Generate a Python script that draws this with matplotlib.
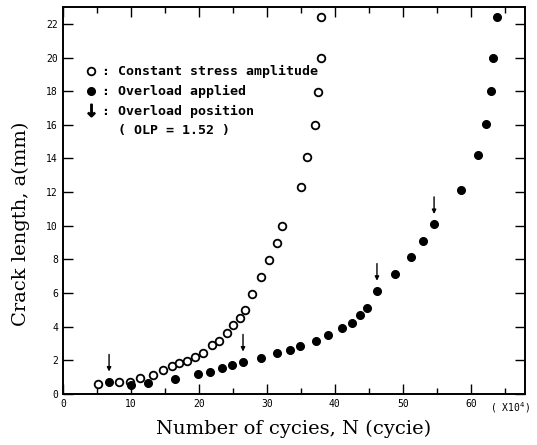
import matplotlib
matplotlib.use("Agg")
import matplotlib.pyplot as plt
from matplotlib.lines import Line2D
from matplotlib.ticker import MultipleLocator

# Constant stress amplitude (open circles), N in x10^4 cycles, a in mm
const_N = [5.1, 8.2, 9.9, 11.3, 13.2, 14.7, 16.0, 17.1, 18.2, 19.4, 20.6, 21.9,
           22.9, 24.1, 25.0, 26.0, 26.8, 27.8, 29.1, 30.3, 31.5, 32.2, 35.1,
           35.9, 37.1, 37.5, 37.9, 37.9]
const_a = [0.59, 0.71, 0.71, 0.95, 1.13, 1.42, 1.66, 1.84, 1.96, 2.19, 2.43, 2.91,
           3.14, 3.62, 4.09, 4.51, 4.98, 5.93, 6.94, 7.95, 8.96, 9.96, 12.28,
           14.06, 16.01, 17.97, 19.99, 22.42]

# Overload applied (filled circles)
over_N = [6.8, 10.0, 12.5, 16.5, 19.9, 21.6, 23.4, 24.9, 26.5, 29.1, 31.5, 33.4,
          34.9, 37.2, 39.0, 41.0, 42.5, 43.7, 44.7, 46.2, 48.8, 51.2, 52.9, 54.6,
          58.5, 61.0, 62.2, 62.9, 63.2, 63.8]
over_a = [0.71, 0.53, 0.65, 0.89, 1.19, 1.30, 1.54, 1.72, 1.90, 2.14, 2.43, 2.61,
          2.85, 3.14, 3.50, 3.91, 4.21, 4.69, 5.10, 6.11, 7.12, 8.13, 9.07, 10.08,
          12.10, 14.18, 16.07, 18.03, 19.99, 22.42]

# Overload positions (arrows)
olp_N = [6.8, 26.5, 46.2, 54.6]
olp_a = [0.71, 1.90, 6.11, 10.08]

fig = plt.figure(figsize=(5.37, 4.45), dpi=100)
ax = fig.add_axes([0.117, 0.115, 0.861, 0.869])

ax.plot(const_N, const_a, 'o', mfc='white', mec='black', mew=1.3, ms=5.5, ls='none')
ax.plot(over_N, over_a, 'o', mfc='black', mec='black', ms=5.5, ls='none')

# arrows above the overload points
for n, a in zip(olp_N, olp_a):
    ax.annotate('', xy=(n, a + 0.45), xytext=(n, a + 1.8),
                arrowprops=dict(arrowstyle='-|>', lw=1, color='black', mutation_scale=6))

ax.set_xlim(0, 68)
ax.set_ylim(0, 23)

ax.xaxis.set_minor_locator(MultipleLocator(5))
ax.yaxis.set_major_locator(MultipleLocator(2))
ax.set_xticks(range(0, 70, 10))
ax.set_xticklabels(['0', '10', '20', '30', '40', '50', '60'])
ax.tick_params(which='both', direction='in', top=True, right=True,
               labelsize=7, width=1, color='black')
ax.tick_params(which='major', length=7)
ax.tick_params(which='minor', length=4)
for lab in ax.get_xticklabels() + ax.get_yticklabels():
    lab.set_family('DejaVu Sans Mono')

for sp in ax.spines.values():
    sp.set_linewidth(1.4)

ax.text(62.8, -0.4, '( X10$^4$)', fontsize=7, family='DejaVu Sans Mono', va='top', ha='left')

ax.set_xlabel('Number of cycies, N (cycie)', family='DejaVu Serif', fontsize=14, labelpad=8)
ax.set_ylabel('Crack length, a(mm)', family='DejaVu Serif', fontsize=14)
ax.yaxis.set_label_coords(-0.072, 0.44)

handles = [
    Line2D([], [], marker='o', mfc='white', mec='black', mew=1.3, ms=5.5, ls='none'),
    Line2D([], [], marker='o', mfc='black', mec='black', ms=5.5, ls='none'),
    Line2D([], [], marker=r'$\downarrow$', color='black', ms=9, ls='none'),
    Line2D([], [], ls='none'),
]
labels = [': Constant stress amplitude', ': Overload applied',
          ': Overload position', '  ( OLP = 1.52 )']
ax.legend(handles, labels, loc='upper left', bbox_to_anchor=(0.02, 0.88),
          frameon=False, handlelength=1, handletextpad=0.4, labelspacing=0.5,
          prop={'family': 'DejaVu Sans Mono', 'weight': 'bold', 'size': 9.5})

fig.savefig('out.png', dpi=100)
